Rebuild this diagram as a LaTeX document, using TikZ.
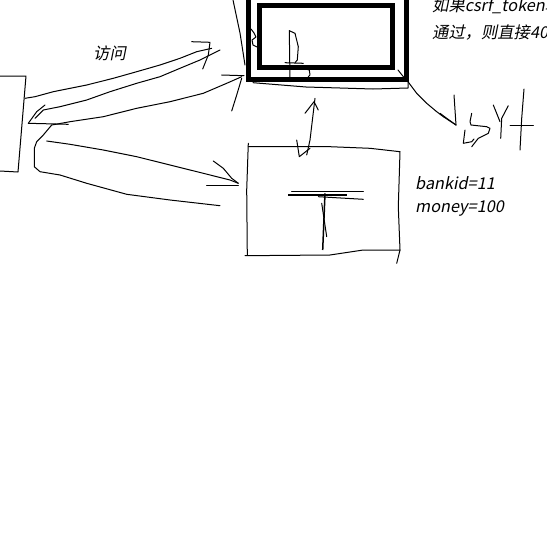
\documentclass[tikz,border=0pt]{standalone}
\usepackage{fontspec}
\newfontfamily\cjk[FakeSlant=0.2]{Noto Sans CJK SC}
\begin{document}
\begin{tikzpicture}[x=1pt,y=-1pt,
  pen/.style={line width=1pt, line join=round, line cap=round},
  heavy/.style={line width=5pt},
  lbl/.style={font=\cjk\fontsize{16.3}{19}\selectfont, inner sep=0pt, anchor=base west}]
\useasboundingbox (0,0) rectangle (546,546);
\clip (0,0) rectangle (546,546);

% left box (browser)
\draw[pen] (0,76) -- (26,76) -- (18,172) -- (0,171);

% top box: thick double frame
\draw[heavy] (248.5,-10) -- (248.5,79.5) -- (406.5,79.5) -- (406.5,-10);
\draw[heavy] (259.5,5) rectangle (392.5,67.5);
\draw[pen] (233,0) -- (240,33) -- (245,65);
\draw[pen] (253,82.7) -- (306,87) -- (340,88) -- (373,89) -- (408,88) -- (408,80);
\draw[pen] (398,70) -- (406,80);
\draw[pen] (251,29) -- (254,33) -- (256,37) -- (252,40) -- (253,45) -- (257,47);
% letter D
\draw[pen] (289.3,30.7) -- (290,81.7);
\draw[pen] (289.3,30.7) -- (295,33.3) -- (298.3,46.7) -- (297.3,60) -- (295,62.7);
\draw[pen] (285,62.7) -- (303.3,63.3);
\draw[pen] (303.3,68.3) -- (309.3,70) -- (310,75) -- (308.3,76.7);

% wide arrow browser -> top box
\draw[pen] (25,98.3) -- (35,96.7) -- (53.3,91.7) -- (86.7,85) -- (113.3,78.3) -- (136.7,71.7) -- (160,65) -- (180,58.3) -- (196.7,51.7) -- (211.7,48.3);
\draw[pen] (191.7,41.7) -- (210,42.3) -- (208.3,55) -- (202.7,69);
\draw[pen] (35,118.3) -- (43.3,110) -- (60,106.7) -- (86.7,100) -- (110,91.7) -- (136.7,83.3) -- (160,76.7) -- (180,68.3) -- (200,60) -- (220,50);
% return arrow top box -> browser
\draw[pen] (28.3,123.3) -- (36.7,111.7) -- (45,105);
\draw[pen] (28.3,123.3) -- (68.3,124.3);
\draw[pen] (51.7,125) -- (70,121.7) -- (103.3,116.7) -- (136.7,108.3) -- (170,101.7) -- (203.3,93.3) -- (226.7,83.3) -- (241.7,76.7);
\draw[pen] (221.7,75) -- (244,75.7);
\draw[pen] (241.7,78.3) -- (236.7,95) -- (231.7,111);

% wide arrow browser -> bottom box
\draw[pen] (46.7,141) -- (70,144.3) -- (103.3,150) -- (136.7,156.7) -- (170,165) -- (203.3,173.3) -- (230,180) -- (238.3,183.3);
\draw[pen] (213.3,161) -- (223.3,168.3) -- (231.7,178.3) -- (238.3,183.3);
\draw[pen] (206.7,185) -- (238.3,185);
\draw[pen] (51.7,125) -- (43.3,135) -- (36.7,141.7) -- (34.3,148.3) -- (34.3,166.7) -- (40,171.7) -- (60,175) -- (86.7,183.3) -- (126.7,194.3) -- (170,200) -- (220,205.7);

% bottom box
\draw[pen] (248.3,143.3) -- (246.7,190) -- (247.3,255);
\draw[pen] (248.3,146.7) -- (296.7,146.7) -- (330,146.7) -- (370,148.3) -- (400,151.7) -- (398.3,206.7) -- (400,250) -- (396.7,263.3);
\draw[pen] (245,255.7) -- (330,255) -- (363.3,250) -- (400,250);
% letter T
\draw[line width=2pt] (288,195) -- (346.7,195);
\draw[pen] (291.7,191.7) -- (363.3,191.7);
\draw[pen] (318.3,196.7) -- (363.3,199.3);
\draw[line width=1.5pt] (325,193.3) -- (322.7,250);
\draw[pen] (321.7,203.3) -- (326.7,236.7);

% double arrow between boxes
\draw[pen] (315,98.3) -- (310,140) -- (306.7,155);
\draw[pen] (305,113.3) -- (314,101.7) -- (318.3,110);
\draw[pen] (296.7,140) -- (299.3,156.7) -- (310,148.3);

% arrow to scribble
\draw[pen] (406.7,80) -- (416.7,93.3) -- (426.7,103.3) -- (436.7,111.7) -- (443.3,116.7) -- (456,125);
\draw[pen] (454,95) -- (456,125);
\draw[pen] (440,113.3) -- (446.7,118.3) -- (456,125);
% scribble
\draw[pen] (471.7,113.3) -- (470,121.7) -- (471,125) -- (486.7,126.7) -- (490,128.3) -- (488.3,133.3) -- (478.3,138.3) -- (471.7,146.7);
\draw[pen] (465,130) -- (463.3,143.3) -- (471.7,141.7) -- (474,139);
\draw[pen] (493.3,105) -- (500,121.7);
\draw[pen] (508.3,105.7) -- (501.7,118.3) -- (500.7,138.3);
\draw[pen] (524,89) -- (521.7,118.3) -- (520,150);
\draw[pen] (510,125) -- (533.3,125);

% texts
\node[lbl] (visit) at (93,59) {访问};
\node[lbl] (bank) at (415,189.5) {bankid=11};
\node[lbl] (money) at (415,212) {money=100};
\node[lbl] (t1) at (432,11) {如果csrf\_token验};
\node[lbl] (t2) at (432,38) {通过，则直接40};
\end{tikzpicture}
\end{document}
